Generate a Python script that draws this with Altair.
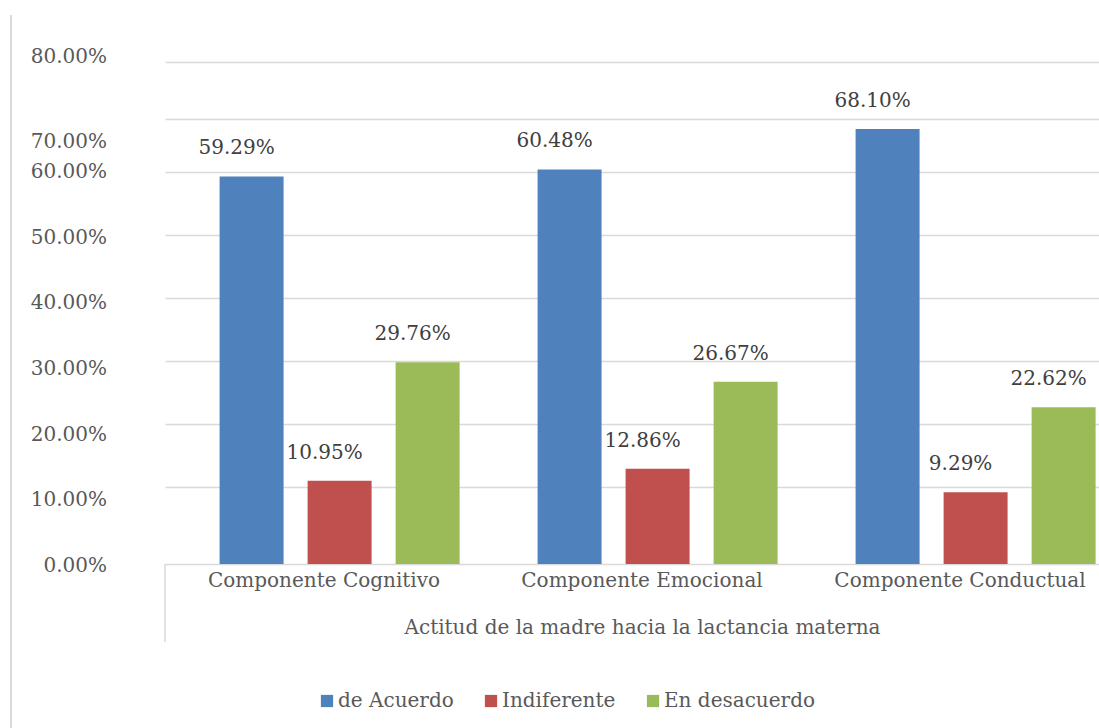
import altair as alt
import pandas as pd

# ---- data ----
componentes = ["Componente Cognitivo", "Componente Emocional", "Componente Conductual"]
series = ["de Acuerdo", "Indiferente", "En desacuerdo"]
de_acuerdo = [0.5929, 0.6048, 0.6810]
indiferente = [0.1095, 0.1286, 0.0929]
en_desacuerdo = [0.2976, 0.2667, 0.2262]
colores = ["#4F81BD", "#C0504D", "#9BBB59"]
y_ticks = [0, 0.1, 0.2, 0.3, 0.4, 0.5, 0.6, 0.7, 0.8]
titulo_x = "Actitud de la madre hacia la lactancia materna"

rows = []
for i, c in enumerate(componentes):
    for s, vals in zip(series, [de_acuerdo, indiferente, en_desacuerdo]):
        rows.append({"componente": c, "serie": s, "valor": vals[i]})
df = pd.DataFrame(rows)

FONT = "DejaVu Serif"
FS = 20
GRID = "#D9D9D9"
TXT = "#595959"

# the reference's value axis is not evenly spaced: piecewise scale
yscale = alt.Scale(domain=[0, 0.1, 0.6, 0.7, 0.8],
                   range=[502, 424.7, 110, 57, 0], nice=False, zero=False)
# the category axis runs past the right edge of the picture (cropped in the reference)
xscale = alt.Scale(domain=componentes, range=[0, 954], paddingInner=0, paddingOuter=0)
xoff = alt.Scale(domain=series, paddingInner=0.273, paddingOuter=0.443, align=0.7)

base = alt.Chart(df).encode(
    x=alt.X("componente:N", scale=xscale, sort=componentes,
            axis=alt.Axis(title=titulo_x, labelAngle=0, ticks=False, domain=False,
                          labelFont=FONT, labelFontSize=FS, labelColor=TXT,
                          labelPadding=6, labelLimit=0,
                          titleFont=FONT, titleFontSize=FS, titleColor=TXT,
                          titleFontWeight="normal", titlePadding=27)),
    xOffset=alt.XOffset("serie:N", scale=xoff, sort=series),
    y=alt.Y("valor:Q", scale=yscale,
            axis=alt.Axis(values=y_ticks, labels=False, ticks=False, domain=False,
                          grid=True, gridColor=GRID, gridWidth=1.5, title=None)),
)

bars = base.mark_bar().encode(
    color=alt.Color("serie:N", sort=series,
                    scale=alt.Scale(domain=series, range=colores),
                    legend=alt.Legend(title=None, orient="none", legendX=152, legendY=629,
                                      direction="horizontal", symbolType="square",
                                      symbolSize=150, symbolStrokeWidth=0,
                                      labelFont=FONT, labelFontSize=FS, labelColor=TXT,
                                      labelOffset=1, columnPadding=27, labelLimit=0))
)

bar_labels = base.mark_text(font=FONT, fontSize=FS, color="#404040",
                            dy=-28, dx=-15, baseline="middle").encode(
    text=alt.Text("valor:Q", format=".2%")
)

ylab_df = pd.DataFrame({"v": y_ticks})
y_labels = alt.Chart(ylab_df).mark_text(font=FONT, fontSize=FS, color=TXT,
                                        align="right", baseline="middle").encode(
    x=alt.value(-58),
    y=alt.Y("v:Q", axis=None,
            scale=alt.Scale(domain=[0, 0.6, 0.7, 0.8], range=[504, 110, 79.5, -5.5],
                            nice=False, zero=False)),
    text=alt.Text("v:Q", format=".2%"),
)

one = pd.DataFrame({"a": [0]})
border = alt.Chart(one).mark_rule(color=GRID, strokeWidth=2).encode(
    x=alt.value(-154), y=alt.value(-47), y2=alt.value(670))
divider = alt.Chart(one).mark_rule(color=GRID, strokeWidth=1.5).encode(
    x=alt.value(0), y=alt.value(502), y2=alt.value(580))

chart = alt.layer(
    alt.layer(bars, bar_labels), y_labels, border, divider
).resolve_scale(y="independent").properties(
    width=934, height=502,
    autosize=alt.AutoSizeParams(type="none"),
    padding={"left": 165, "top": 62, "right": 0, "bottom": 164},
).configure(background="white").configure_view(stroke=None)

chart.save("out.html", embed_options={"renderer": "svg", "actions": False})
